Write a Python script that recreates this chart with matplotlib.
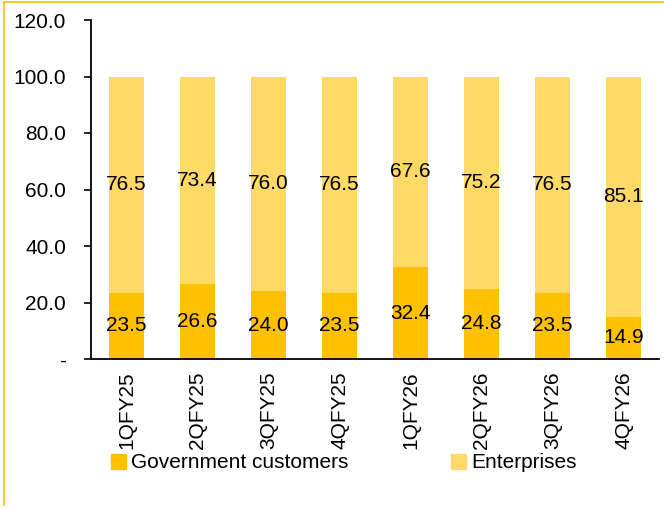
import matplotlib
matplotlib.use("Agg")
import matplotlib.pyplot as plt
from matplotlib.lines import Line2D
from matplotlib.patches import Patch
import numpy as np

plt.rcParams['font.family'] = ['Liberation Sans', 'DejaVu Sans']

categories = ['1QFY25', '2QFY25', '3QFY25', '4QFY25', '1QFY26', '2QFY26', '3QFY26', '4QFY26']
government = [23.5, 26.6, 24.0, 23.5, 32.4, 24.8, 23.5, 14.9]
enterprises = [76.5, 73.4, 76.0, 76.5, 67.6, 75.2, 76.5, 85.1]
yticks = [0, 20, 40, 60, 80, 100, 120]
ytick_labels = ['-', '20.0', '40.0', '60.0', '80.0', '100.0', '120.0']

c_gov = '#FFC000'
c_ent = '#FFD966'
FS = 15

W, H = 664, 509
fig = plt.figure(figsize=(W / 100, H / 100), dpi=100)
ax = fig.add_axes([91 / W, 1 - 359 / H, 568 / W, 339 / H])

x = np.arange(len(categories))
bw = 0.5
ax.bar(x, government, bw, color=c_gov, label='Government customers')
ax.bar(x, enterprises, bw, bottom=government, color=c_ent, label='Enterprises')

for i in range(len(categories)):
    ax.text(x[i], government[i] / 2, f'{government[i]:.1f}', ha='center', va='center', fontsize=FS)
    ax.text(x[i], government[i] + enterprises[i] / 2, f'{enterprises[i]:.1f}', ha='center', va='center', fontsize=FS)

ax.set_xlim(-0.5, len(categories) - 0.5)
ax.set_ylim(0, 120)
ax.set_yticks(yticks)
ax.set_yticklabels(ytick_labels, fontsize=FS)
ax.set_xticks(x)
ax.set_xticklabels(categories, rotation=90, fontsize=FS)
ax.tick_params(axis='x', length=0, pad=9)
ax.tick_params(axis='y', length=5, width=1.2, pad=13)
ax.spines['top'].set_visible(False)
ax.spines['right'].set_visible(False)
ax.spines['left'].set_linewidth(1.3)
ax.spines['bottom'].set_linewidth(1.3)

handles = [Patch(color=c_gov, label='Government customers'), Patch(color=c_ent, label='Enterprises')]
fig.legend(handles=handles, loc='center left', bbox_to_anchor=(111 / W, 1 - 463 / H), ncol=2,
           frameon=False, fontsize=FS, handlelength=0.7, handleheight=0.7, handletextpad=0.25,
           columnspacing=4.95, borderaxespad=0, borderpad=0)

# figure border (top and left)
fig.add_artist(Line2D([4 / W, 1], [1 - 1.5 / H, 1 - 1.5 / H], transform=fig.transFigure, color='#FFC000', lw=1.2))
fig.add_artist(Line2D([4 / W, 4 / W], [1 - 1.5 / H, 1 - 505 / H], transform=fig.transFigure, color='#FFC000', lw=1.2))

fig.savefig('out.png', dpi=100)
